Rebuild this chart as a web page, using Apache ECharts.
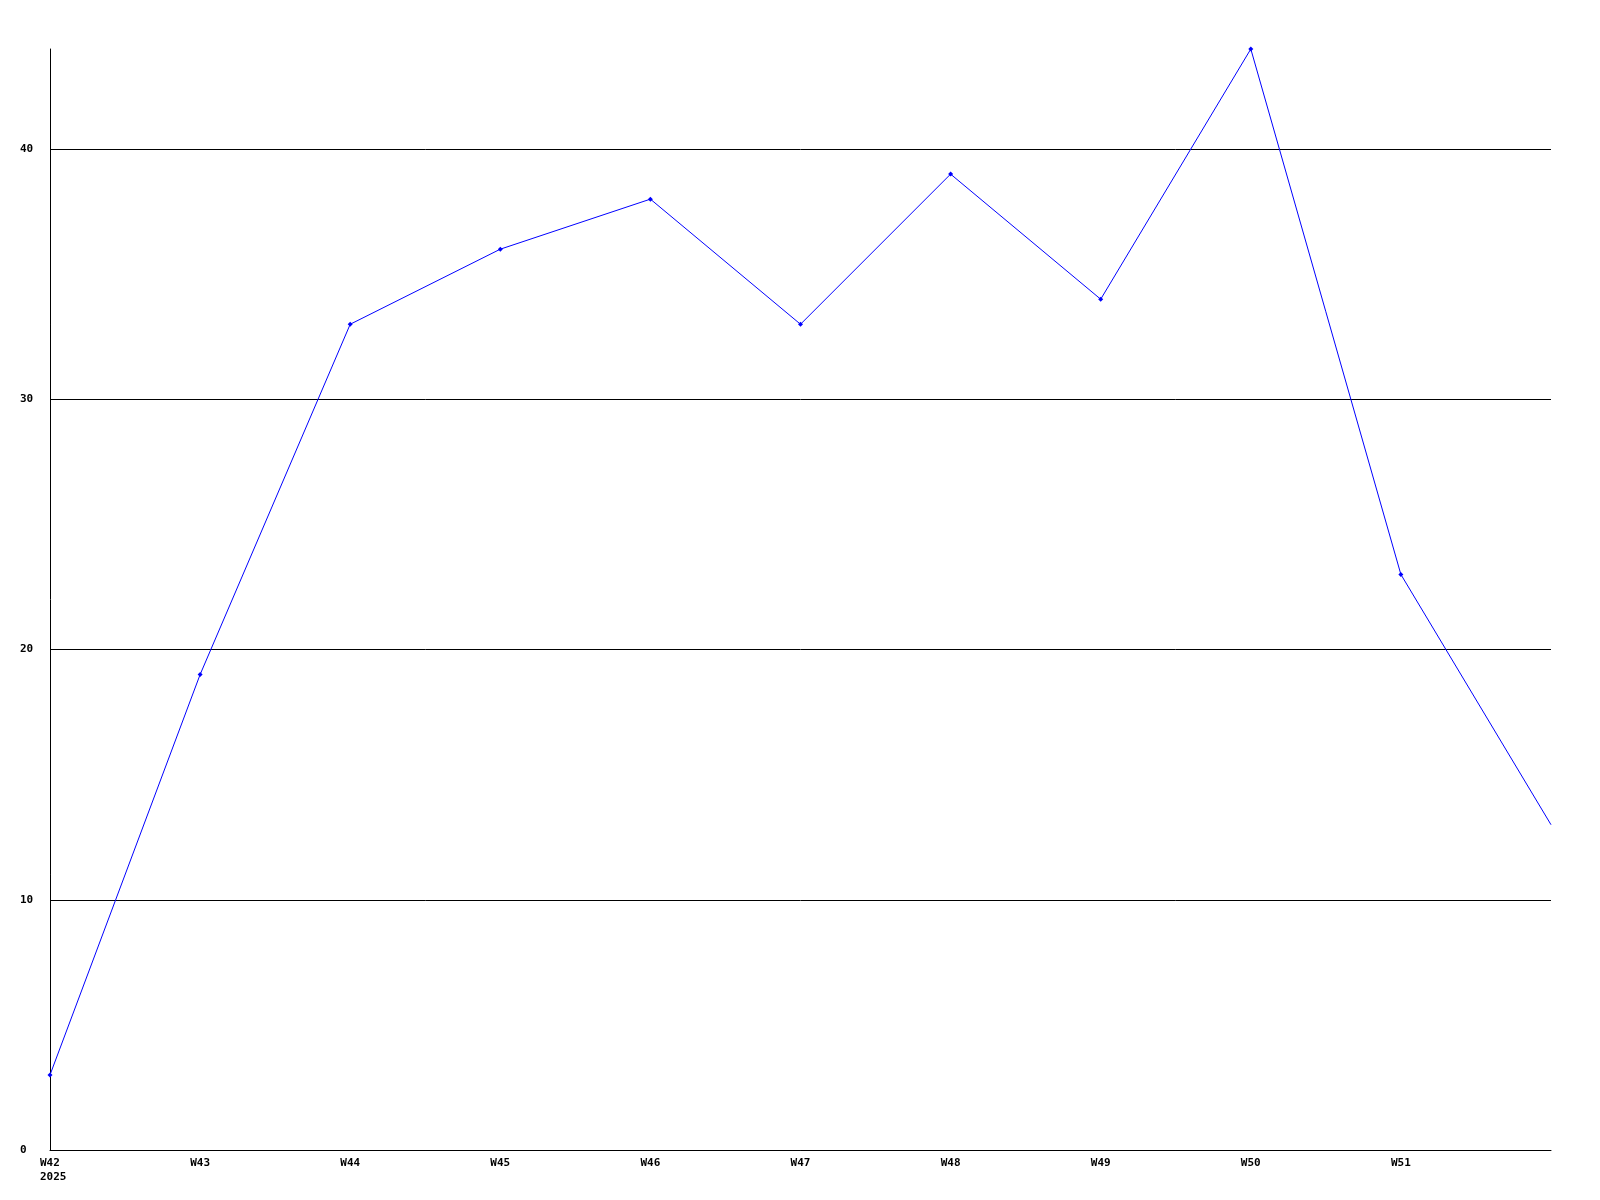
<!DOCTYPE html>
<html><head><meta charset="utf-8">
<script src="https://cdn.jsdelivr.net/npm/echarts@6/dist/echarts.min.js"></script>
<style>html,body{margin:0;padding:0;background:#fff}#c{width:1600px;height:1200px}</style>
</head><body><div id="c"></div>
<script>
const categories = ['W42','W43','W44','W45','W46','W47','W48','W49','W50','W51','W52'];
const tickLabels = ['W42','W43','W44','W45','W46','W47','W48','W49','W50','W51',''];
const yearLabel = '2025';
const values = [3,19,33,36,38,33,39,34,44,23,13];
const yTicks = [0,10,20,30,40];

const chart = echarts.init(document.getElementById('c'), null, {renderer:'canvas'});
const font = {fontFamily:'DejaVu Sans Mono', fontWeight:'bold', fontSize:11, color:'#000'};
const lastIdx = values.length - 1;
chart.setOption({
  animation:false,
  backgroundColor:'#fff',
  grid:{left:50,right:49,top:49,bottom:50,containLabel:false},
  xAxis:{
    type:'category', data:categories, boundaryGap:false,
    axisLine:{show:true,lineStyle:{color:'#000',width:1}},
    axisTick:{show:false},
    splitLine:{show:false},
    axisLabel:Object.assign({margin:6,interval:0,align:'center',lineHeight:14,
      formatter:(v,i)=> i===0 ? '{f|'+tickLabels[i]+'}\n{f|'+yearLabel+'}' : tickLabels[i],
      rich:{f:Object.assign({width:20,align:'left',lineHeight:14},font)}
    },font)
  },
  yAxis:{
    type:'value', min:0, max:44,
    axisLine:{show:true,lineStyle:{color:'#000',width:1}},
    axisTick:{show:false, customValues:yTicks},
    splitLine:{show:true,lineStyle:{color:'#000',width:1}},
    axisLabel:Object.assign({margin:30,align:'left',padding:[4,0,0,0],customValues:yTicks},font)
  },
  series:[{
    type:'line',
    data:values.map((v,i)=> i===lastIdx ? {value:v, symbol:'none'} : v),
    symbol:'diamond', symbolSize:5,
    showAllSymbol:true,
    lineStyle:{color:'#0000ff',width:1},
    itemStyle:{color:'#0000ff'}
  }]
});
</script></body></html>
